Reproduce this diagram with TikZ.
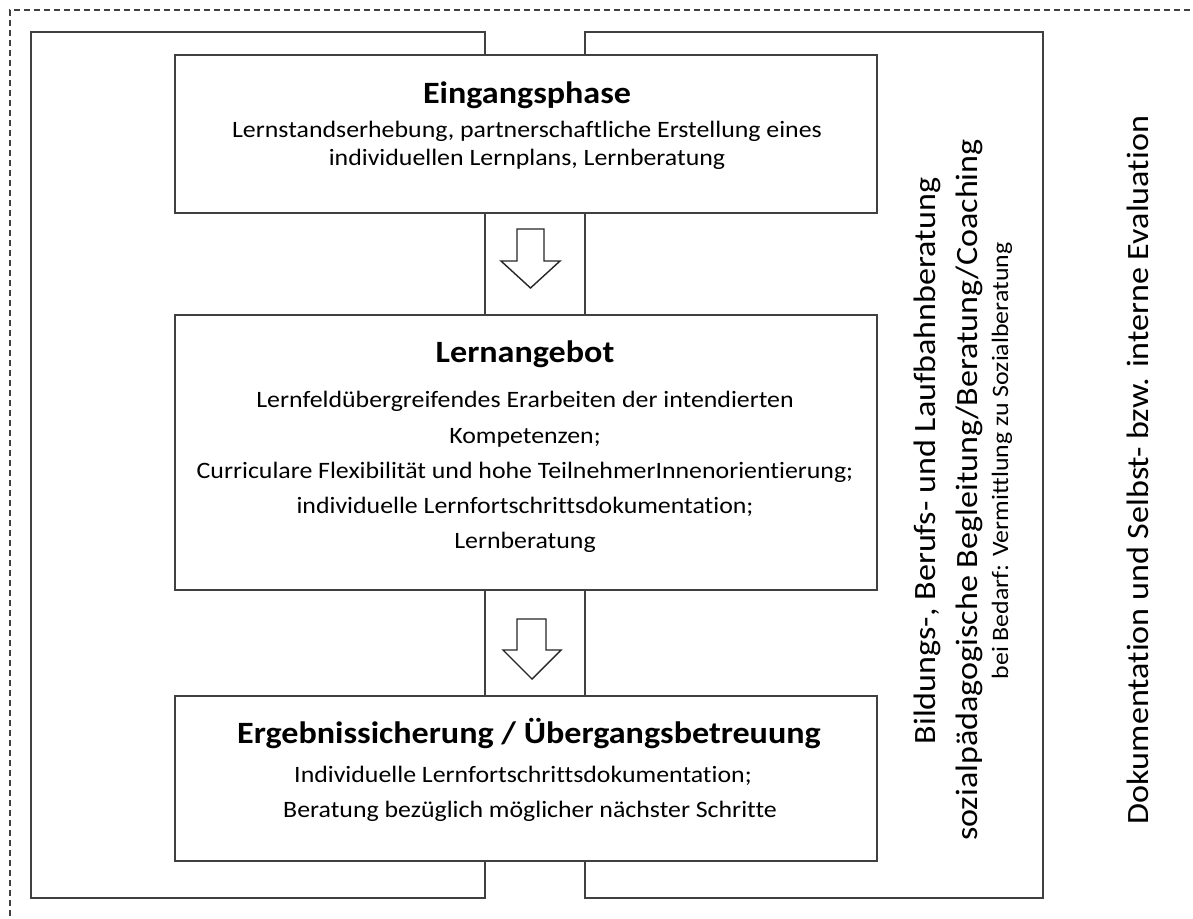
\documentclass[tikz,border=0pt]{standalone}
\usepackage{fontspec}
\setmainfont{Carlito}[FakeStretch=1.1, RawFeature={-liga}]
\begin{document}
\begin{tikzpicture}[x=1pt,y=-1pt,
  frame/.style={draw=black!75, line width=1.8pt},
  phasebox/.style={draw=black!75, line width=1.8pt, fill=white, inner sep=0pt},
  dashframe/.style={draw=black!75, line width=1.2pt, dash pattern=on 6pt off 4pt},
  blockarrow/.style={draw=black!85, line width=1.4pt, fill=white, line join=miter},
  title/.style={anchor=base, inner sep=0pt, font=\fontsize{31}{36}\selectfont\bfseries},
  body/.style={anchor=base, inner sep=0pt, font=\fontsize{23.5}{28}\selectfont},
  side/.style={anchor=base, inner sep=0pt, rotate=90, font=\fontsize{31}{36}\selectfont},
  sidesmall/.style={anchor=base, inner sep=0pt, rotate=90, font=\fontsize{23.5}{28}\selectfont}]
\useasboundingbox (0,0) rectangle (1193,918);
\fill[white] (0,0) rectangle (1193,918);
% dashed outer frame
\draw[dashframe] (1200,10) -- (10,10) -- (10,925);
% two column frames
\draw[frame] (31,32) rectangle (485,898);
\draw[frame] (585,32) rectangle (1043,898);
% phase boxes
\node[phasebox, minimum width=702pt, minimum height=158pt] (ein) at (526,134) {};
\node[phasebox, minimum width=702pt, minimum height=275pt] (lern) at (526,452.5) {};
\node[phasebox, minimum width=702pt, minimum height=165pt] (erg) at (526,778.5) {};
% block arrows
\draw[blockarrow] (517,229) -- (544,229) -- (544,261) -- (560,261) -- (530.5,288) -- (501,261) -- (517,261) -- cycle;
\draw[blockarrow] (517,619) -- (546,619) -- (546,650) -- (561,650) -- (532,679) -- (503,650) -- (517,650) -- cycle;
% texts box 1
\node[title] (t1) at (527,103) {Eingangsphase};
\node[body] (b11) at (527,137) {Lernstandserhebung, partnerschaftliche Erstellung eines};
\node[body] (b12) at (527,165) {individuellen Lernplans, Lernberatung};
% texts box 2
\node[title] (t2) at (525,362) {Lernangebot};
\node[body] (b21) at (525,407) {Lernfeldübergreifendes Erarbeiten der intendierten};
\node[body] (b22) at (525,443) {Kompetenzen;};
\node[body] (b23) at (525,478) {Curriculare Flexibilität und hohe TeilnehmerInnenorientierung;};
\node[body] (b24) at (525,513) {individuelle Lernfortschrittsdokumentation;};
\node[body] (b25) at (525,548) {Lernberatung};
% texts box 3
\node[title] (t3) at (529,743) {Ergebnissicherung / Übergangsbetreuung};
\node[body] (b31) at (523,782) {Individuelle Lernfortschrittsdokumentation;};
\node[body] (b32) at (530,817) {Beratung bezüglich möglicher nächster Schritte};
% side texts
\node[side] (s1) at (935,461) {Bildungs-, Berufs- und Laufbahnberatung};
\node[side] (s2) at (977,490) {sozialpädagogische Begleitung/Beratung/Coaching};
\node[sidesmall] (s3) at (1008,461) {bei Bedarf: Vermittlung zu Sozialberatung};
\node[side] (s4) at (1148,470) {Dokumentation und Selbst- bzw. interne Evaluation};
\end{tikzpicture}
\end{document}
